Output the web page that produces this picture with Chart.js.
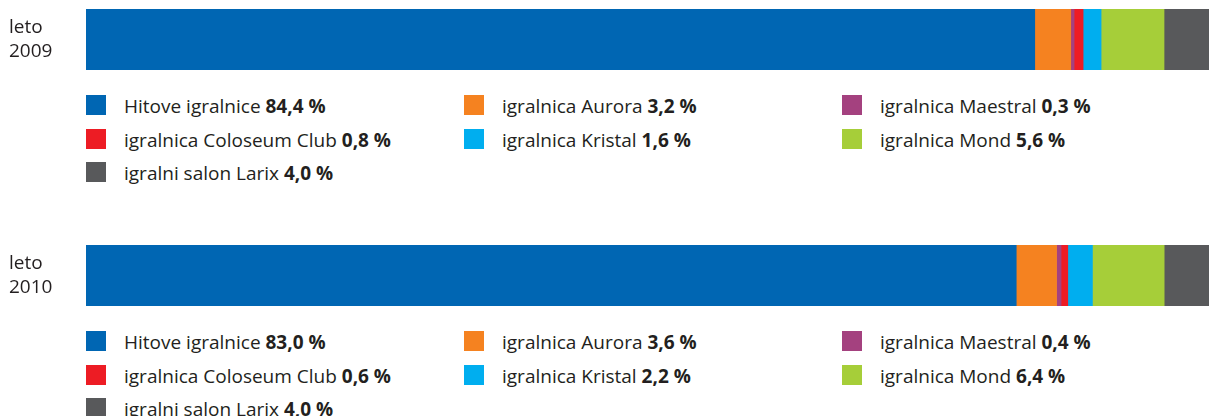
<!DOCTYPE html>
<html>
<head>
<meta charset="utf-8">
<script src="https://cdn.jsdelivr.net/npm/chart.js@4.4.1/dist/chart.umd.min.js"></script>
<style>
    body { margin: 0; background: #fff; width: 1209px; height: 416px; overflow: hidden; position: relative; font-family: "Open Sans", sans-serif; color: #231f20; }
    .wrap { position: absolute; left: 0; width: 1209px; height: 79px; }
    .item { position: absolute; height: 20px; white-space: nowrap; font-size: 19px; line-height: 20px; }
    .item i { position: absolute; left: 0; top: 0; width: 20px; height: 20px; }
    .item span { position: absolute; left: 38px; top: 1px; }
    .item b { font-weight: 700; }
</style>
</head>
<body>
<div class="wrap" style="top:0"><canvas id="myChart1"></canvas></div>
<div class="wrap" style="top:236px"><canvas id="myChart2"></canvas></div>
<div id="legend1"></div>
<div id="legend2"></div>
<script>
// podatki
const companies = ['Hitove igralnice', 'igralnica Aurora', 'igralnica Maestral', 'igralnica Coloseum Club', 'igralnica Kristal', 'igralnica Mond', 'igralni salon Larix'];
const colors = ['#0066b3', '#f58220', '#a4417f', '#ed1c24', '#00aeef', '#a6ce39', '#58595b'];
const years = [['leto', '2009'], ['leto', '2010']];
const values2009 = [84.4, 3.2, 0.3, 0.8, 1.6, 5.6, 4.0];
const values2010 = [83.0, 3.6, 0.4, 0.6, 2.2, 6.4, 4.0];

// vrstni red v legendi (po vrsticah)
const legendOrder = [0, 1, 2, 3, 4, 5, 6];
const colX = [86, 464, 842];

function fmt(v) {
    return v.toFixed(1).replace('.', ',') + ' %';
}

function makeChart(ctx, label, values) {
    const total = values.reduce((a, b) => a + b, 0);
    return new Chart(ctx, {
        type: 'bar',
        data: {
            labels: [label],
            datasets: companies.map((c, i) => ({
                label: c,
                data: [values[i]],
                backgroundColor: colors[i],
                borderWidth: 0,
                barPercentage: 1,
                categoryPercentage: 1
            }))
        },
        options: {
            indexAxis: 'y',
            responsive: true,
            maintainAspectRatio: false,
            animation: false,
            layout: { padding: { left: 9, top: 9, bottom: 9, right: 0 } },
            plugins: { legend: { display: false }, tooltip: { enabled: false } },
            scales: {
                x: { stacked: true, min: 0, max: total, display: false },
                y: {
                    stacked: true,
                    grid: { display: false },
                    border: { display: false },
                    afterFit: (scale) => {
                        scale.width = 77;
                        scale.paddingTop = 0;
                        scale.paddingBottom = 0;
                    },
                    ticks: {
                        crossAlign: 'far',
                        color: '#231f20',
                        font: { family: 'Open Sans', size: 19, lineHeight: 1.3 },
                        padding: 0
                    }
                }
            }
        }
    });
}

function makeLegend(el, values, top) {
    let html = '';
    legendOrder.forEach((idx, n) => {
        const row = Math.floor(n / 3), col = n % 3;
        const y = top + row * 33.5;
        html += '<div class="item" style="left:' + colX[col] + 'px;top:' + y + 'px">' +
            '<i style="background:' + colors[idx] + '"></i>' +
            '<span>' + companies[idx] + ' <b>' + fmt(values[idx]) + '</b></span></div>';
    });
    el.innerHTML = html;
}

document.addEventListener('DOMContentLoaded', () => {
    makeChart(document.getElementById('myChart1'), years[0], values2009);
    makeChart(document.getElementById('myChart2'), years[1], values2010);
    makeLegend(document.getElementById('legend1'), values2009, 95);
    makeLegend(document.getElementById('legend2'), values2010, 331);
});
</script>
</body>
</html>
